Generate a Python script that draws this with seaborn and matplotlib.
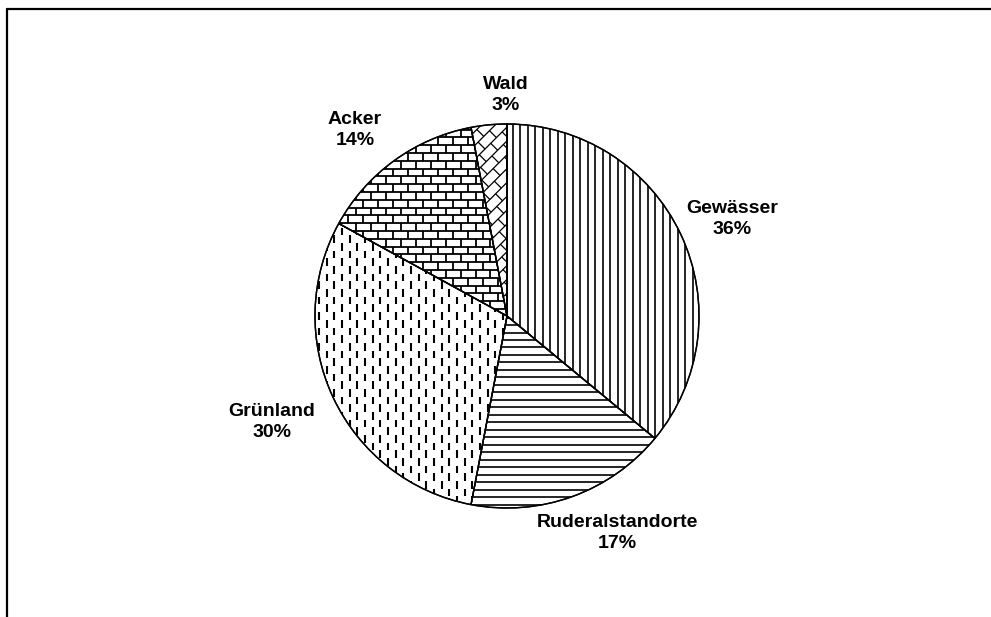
import numpy as np
import matplotlib
matplotlib.use('Agg')
import matplotlib.pyplot as plt
from matplotlib.collections import LineCollection
from matplotlib.lines import Line2D
from matplotlib.patches import PathPatch
import seaborn as sns

# Flächenanteile
categories = ['Gewässer', 'Ruderalstandorte', 'Grünland', 'Acker', 'Wald']
shares = [36, 17, 30, 14, 3]
textures = ['vlines', 'hlines', 'dashes', 'bricks', 'diag_bricks']

sns.set_style('white')
plt.rcParams['font.family'] = ['Liberation Sans', 'DejaVu Sans']

EXT = 1.1  # texture extent (pie radius = 1)


def vlines(step=0.039):
    xs = np.arange(-EXT, EXT, step)
    return [[(x, -EXT), (x, EXT)] for x in xs]


def hlines(step=0.039):
    ys = np.arange(-EXT, EXT, step)
    return [[(-EXT, y), (EXT, y)] for y in ys]


def dashes(dx=0.040, period=0.080, length=0.040):
    segs = []
    for i, x in enumerate(np.arange(-EXT, EXT, dx)):
        off = (period / 2) * (i % 2)
        for y in np.arange(-EXT + off, EXT, period):
            segs.append([(x, y), (x, y + length)])
    return segs


def bricks(h=0.0406, w=0.078):
    segs = []
    for j, y in enumerate(np.arange(-EXT, EXT, h)):
        segs.append([(-EXT, y), (EXT, y)])
        off = (w / 2) * (j % 2)
        for x in np.arange(-EXT + off, EXT, w):
            segs.append([(x, y), (x, y + h)])
    return segs


def diag_bricks(h=0.034, w=0.056, angle=45):
    a = np.deg2rad(angle)
    rot = np.array([[np.cos(a), -np.sin(a)], [np.sin(a), np.cos(a)]])
    segs = []
    for s in bricks(h, w):
        p = np.array(s) * 1.5
        segs.append((p @ rot.T).tolist())
    return segs


makers = {'vlines': (vlines, 1.2), 'hlines': (hlines, 1.2),
          'dashes': (dashes, 1.5), 'bricks': (bricks, 1.3),
          'diag_bricks': (diag_bricks, 0.9)}

fig = plt.figure(figsize=(9.91, 6.17), dpi=100)
ax = fig.add_axes([0, 0, 1, 1])

labels = [f'{c}\n{v}%' for c, v in zip(categories, shares)]
wedges, texts = ax.pie(
    shares, labels=labels, startangle=90, counterclock=False,
    labeldistance=1.27, colors=['white'] * len(shares),
    wedgeprops=dict(edgecolor='black', linewidth=1.0),
    textprops=dict(fontsize=14, fontweight='bold', ha='center',
                   va='center', linespacing=1.3, color='black'))

# Beschriftungen wie im Original (in Radius-Einheiten)
label_pos = [(1.172, 0.505), (0.573, -1.130), (-1.224, -0.552),
             (-0.792, 0.969), (-0.005, 1.151)]
for t, p in zip(texts, label_pos):
    t.set_position(p)

for wedge, tex in zip(wedges, textures):
    func, lw = makers[tex]
    lc = LineCollection(func(), colors='black', linewidths=lw, zorder=1.5)
    ax.add_collection(lc)
    lc.set_clip_path(wedge)
    # Umriss oben drauf
    ax.add_patch(PathPatch(wedge.get_path(), fill=False, edgecolor='black',
                           linewidth=1.0, transform=wedge.get_transform(),
                           zorder=2))

ax.set_xlim(-507 / 192, 484 / 192)
ax.set_ylim(-301 / 192, 316 / 192)
ax.set_aspect('auto')
ax.axis('off')

# Rahmen (oben und links)
fig.add_artist(Line2D([0.0075, 1.0], [0.9862, 0.9862], color='black', lw=1.6))
fig.add_artist(Line2D([0.0075, 0.0075], [0.0, 0.9862], color='black', lw=1.6))

plt.savefig('out.png', dpi=100)
